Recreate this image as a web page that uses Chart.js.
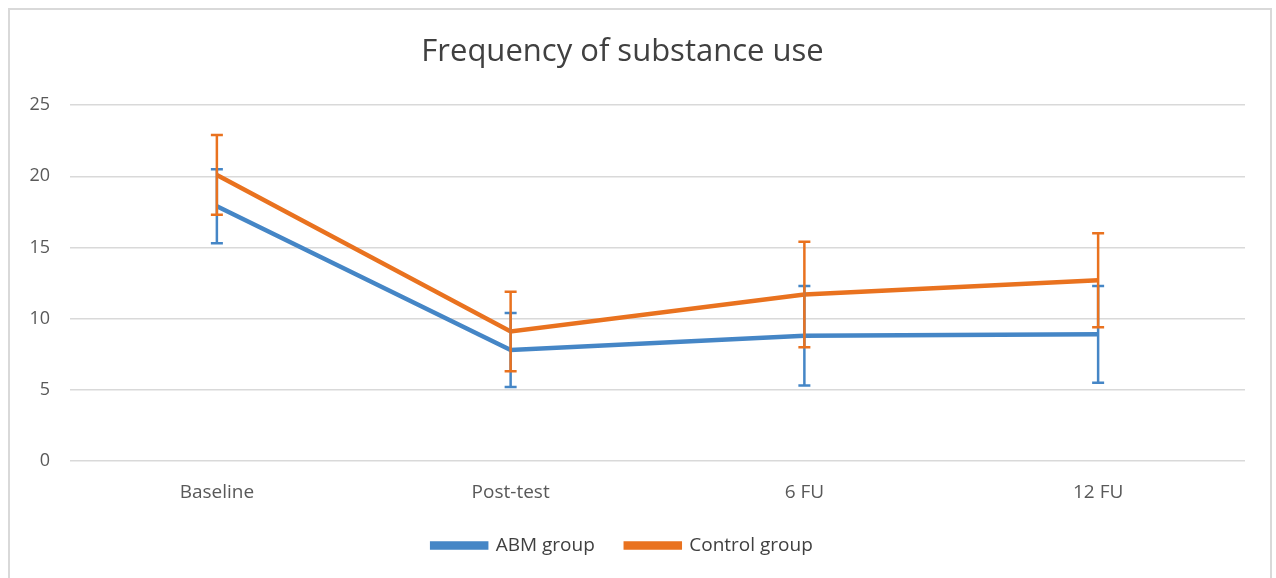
<!DOCTYPE html>
<html>
<head>
<meta charset="utf-8">
<script src="https://cdn.jsdelivr.net/npm/chart.js@4"></script>
<style>
  html, body { margin: 0; padding: 0; background: #fff; }
  #frame {
    position: absolute; left: 8px; top: 8px; width: 1264px; height: 580px;
    border: 2px solid #d9d9d9; box-sizing: border-box;
  }
  #wrap { position: absolute; left: 0; top: 0; width: 1276px; height: 578px; }
</style>
</head>
<body>
<div id="frame"></div>
<div id="wrap"><canvas id="chart"></canvas></div>
<script>
const categories = ['Baseline', 'Post-test', '6 FU', '12 FU'];
const abmMean = [17.9, 7.8, 8.8, 8.9];
const abmErr = [2.6, 2.6, 3.5, 3.4];
const controlMean = [20.1, 9.1, 11.7, 12.7];
const controlErr = [2.8, 2.8, 3.7, 3.3];

const BLUE = '#4586c6';
const ORANGE = '#e9721f';
const FONT = "'Open Sans'";

// error bars drawn through the y scale
const errorBars = {
  id: 'errorBars',
  afterDatasetsDraw(chart) {
    const ctx = chart.ctx;
    const y = chart.scales.y;
    chart.data.datasets.forEach((ds, i) => {
      const meta = chart.getDatasetMeta(i);
      ctx.save();
      ctx.strokeStyle = ds.borderColor;
      ctx.lineWidth = 2.5;
      meta.data.forEach((pt, j) => {
        const top = y.getPixelForValue(ds.data[j] + ds.err[j]);
        const bot = y.getPixelForValue(ds.data[j] - ds.err[j]);
        ctx.beginPath();
        ctx.moveTo(pt.x, top);
        ctx.lineTo(pt.x, bot);
        ctx.moveTo(pt.x - 6, top);
        ctx.lineTo(pt.x + 6, top);
        ctx.moveTo(pt.x - 6, bot);
        ctx.lineTo(pt.x + 6, bot);
        ctx.stroke();
      });
      ctx.restore();
    });
  }
};

new Chart(document.getElementById('chart').getContext('2d'), {
  type: 'line',
  data: {
    labels: categories,
    datasets: [{
      label: 'ABM group',
      data: abmMean,
      err: abmErr,
      borderColor: BLUE,
      backgroundColor: BLUE,
      borderWidth: 4.5,
      pointRadius: 0,
      tension: 0,
    }, {
      label: 'Control group',
      data: controlMean,
      err: controlErr,
      borderColor: ORANGE,
      backgroundColor: ORANGE,
      borderWidth: 4.5,
      pointRadius: 0,
      tension: 0,
    }]
  },
  plugins: [errorBars],
  options: {
    responsive: true,
    maintainAspectRatio: false,
    animation: false,
    layout: { padding: { left: 0, right: 31, top: 0, bottom: 13 } },
    plugins: {
      title: {
        display: true,
        text: 'Frequency of substance use',
        color: '#404040',
        font: { family: FONT, size: 31, weight: 'normal' },
        padding: { top: 34, bottom: 34 }
      },
      legend: {
        position: 'bottom',
        labels: {
          color: '#404040',
          font: { family: FONT, size: 19 },
          boxWidth: 54,
          boxHeight: 4,
          padding: 31
        }
      },
      tooltip: { enabled: false }
    },
    scales: {
      x: {
        offset: true,
        afterFit(scale) { scale.height = 44; },
        grid: { display: false },
        border: { display: false },
        ticks: {
          color: '#595959',
          font: { family: FONT, size: 19 },
          padding: 12
        }
      },
      y: {
        min: 0,
        max: 25,
        afterFit(scale) { scale.width = 70; },
        grid: { color: '#d9d9d9', lineWidth: 1.5, drawTicks: false },
        border: { display: false },
        ticks: {
          stepSize: 5,
          color: '#595959',
          font: { family: FONT, size: 18 },
          padding: 20
        }
      }
    }
  }
});
</script>
</body>
</html>
